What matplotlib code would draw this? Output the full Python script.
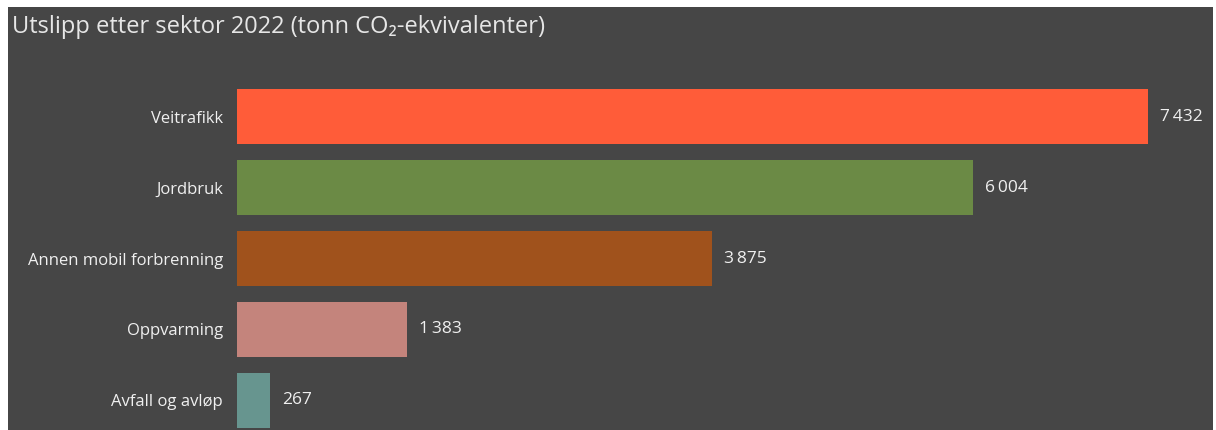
import matplotlib.pyplot as plt
from matplotlib.patches import Rectangle

sektorer = ['Veitrafikk', 'Jordbruk', 'Annen mobil forbrenning', 'Oppvarming', 'Avfall og avløp']
utslipp = [7432, 6004, 3875, 1383, 267]
farger = ['#FF5C39', '#6B8A45', '#A0521C', '#C4847C', '#67958F']

plt.rcParams['font.family'] = ['Open Sans', 'DejaVu Sans']

W, H = 1216, 430
fig = plt.figure(figsize=(W / 100, H / 100), dpi=100)
fig.patch.set_facecolor('white')
# mørk bakgrunn med hvit kant oppe og til venstre
fig.patches.append(Rectangle((8 / W, 0), (1213 - 8) / W, 423 / H,
                             transform=fig.transFigure, facecolor='#464646',
                             edgecolor='none', zorder=-10))

ax = fig.add_axes([237 / W, 0, (1213 - 237) / W, (H - 80) / H])
ax.set_facecolor('none')
px_per_unit = (1148 - 237) / utslipp[0]
ax.set_xlim(0, (1213 - 237) / px_per_unit)
ax.set_ylim(4.42, -0.52)

ypos = list(range(len(sektorer)))
ax.barh(ypos, utslipp, height=0.78, color=farger)

for y, v in zip(ypos, utslipp):
    tekst = '{:,}'.format(v).replace(',', '\u2009')
    ax.text(v + 12 / px_per_unit, y, tekst, va='center', ha='left',
            fontsize=12.5, color='#F0F0F0')

ax.set_yticks(ypos)
ax.set_yticklabels(sektorer, fontsize=12, color='#F0F0F0')
ax.tick_params(axis='y', length=0, pad=10)
ax.set_xticks([])
for s in ax.spines.values():
    s.set_visible(False)

fig.text(12 / W, 1 - 27 / H, 'Utslipp etter sektor 2022 (tonn CO₂-ekvivalenter)',
         fontsize=17, color='#E6E6E6', va='center', ha='left')

fig.savefig('out.png', dpi=100, facecolor=fig.get_facecolor())
